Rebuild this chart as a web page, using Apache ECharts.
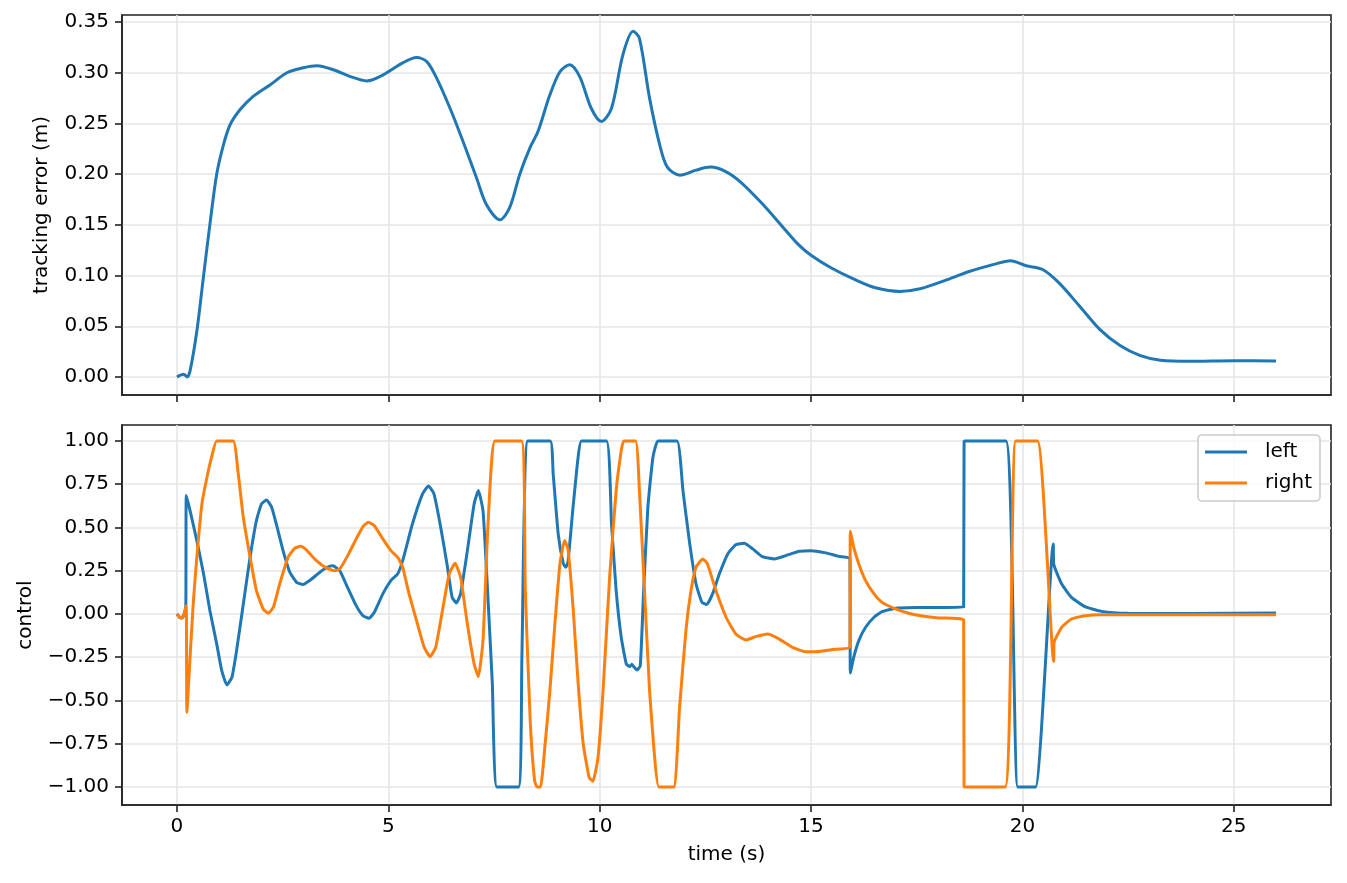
<!DOCTYPE html>
<html>
<head>
<meta charset="utf-8">
<script src="https://cdn.jsdelivr.net/npm/echarts@6/dist/echarts.min.js"></script>
<style>html,body{margin:0;padding:0;background:#fff}#c{width:1347px;height:883px}</style>
</head>
<body>
<div id="c"></div>
<script>
const xTicks = [0, 5, 10, 15, 20, 25];
const errTicks = [0, 0.05, 0.10, 0.15, 0.20, 0.25, 0.30, 0.35];
const ctrlTicks = [-1, -0.75, -0.5, -0.25, 0, 0.25, 0.5, 0.75, 1];

const errT = [0,0.16,0.24,0.31,0.47,0.63,0.79,0.94,1.10,1.26,1.50,1.81,2.20,2.60,2.99,3.31,3.70,4.09,4.49,4.88,5.35,5.67,5.91,6.14,6.46,6.77,7.09,7.32,7.64,7.87,8.11,8.35,8.54,8.82,9.06,9.29,9.53,9.80,10.04,10.28,10.55,10.79,10.94,11.18,11.42,11.6,11.9,12.28,12.62,12.96,13.34,13.82,14.31,14.69,15.0,15.46,16.04,16.52,17.1,17.58,18.16,18.74,19.32,19.72,20.09,20.48,20.86,21.35,21.83,22.31,22.79,23.27,23.95,25.0,26.0];
const errV = [0,0.0026,0,0.006,0.045,0.10,0.154,0.20,0.229,0.249,0.264,0.277,0.288,0.300,0.305,0.307,0.303,0.2965,0.292,0.298,0.31,0.315,0.311,0.295,0.265,0.232,0.196,0.170,0.155,0.167,0.20,0.226,0.242,0.278,0.301,0.308,0.296,0.265,0.252,0.265,0.318,0.341,0.334,0.275,0.229,0.207,0.199,0.204,0.207,0.203,0.192,0.172,0.149,0.131,0.120,0.108,0.096,0.088,0.0844,0.087,0.095,0.104,0.111,0.1147,0.1097,0.106,0.093,0.070,0.047,0.031,0.021,0.0164,0.0154,0.016,0.0158];

const leftT = [0,0.06,0.12,0.17,0.21,0.22,0.31,0.47,0.63,0.78,0.94,1.06,1.18,1.30,1.41,1.57,1.73,1.88,2.0,2.12,2.24,2.35,2.51,2.67,2.83,2.98,3.14,3.38,3.55,3.69,3.85,4.0,4.24,4.40,4.54,4.67,4.87,5.06,5.22,5.34,5.57,5.81,5.95,6.08,6.24,6.40,6.51,6.61,6.71,6.87,7.03,7.13,7.24,7.34,7.46,7.57,8.08,8.16,8.30,8.83,8.90,9.02,9.14,9.20,9.25,9.37,9.49,9.57,10.16,10.28,10.39,10.51,10.63,10.71,10.76,10.79,10.88,10.96,11.04,11.14,11.26,11.38,11.83,11.97,12.12,12.28,12.42,12.53,12.67,12.83,13.03,13.22,13.42,13.62,13.85,14.13,14.40,14.72,15.0,15.35,15.66,15.92,15.93,16.01,16.13,16.29,16.49,16.68,17.0,17.47,18.61,18.62,19.61,19.89,20.31,20.73,20.74,20.93,21.16,21.48,21.87,22.5,24,26.0];
const leftV = [0,-0.019,-0.023,0,0.048,0.684,0.597,0.424,0.231,0.019,-0.173,-0.328,-0.41,-0.366,-0.212,0.058,0.328,0.54,0.636,0.659,0.617,0.52,0.366,0.241,0.183,0.17,0.193,0.241,0.27,0.279,0.25,0.173,0.048,-0.01,-0.025,0.01,0.116,0.193,0.231,0.308,0.52,0.694,0.74,0.694,0.50,0.27,0.096,0.064,0.116,0.366,0.636,0.713,0.597,0.173,-0.40,-1.0,-1.0,-0.25,1.0,1.0,0.81,0.46,0.29,0.27,0.30,0.617,0.906,1.0,1.0,0.52,0.135,-0.135,-0.289,-0.304,-0.29,-0.30,-0.324,-0.30,0.135,0.617,0.906,1.0,1.0,0.713,0.424,0.173,0.067,0.054,0.116,0.231,0.347,0.40,0.408,0.376,0.331,0.318,0.337,0.362,0.366,0.353,0.333,0.32,-0.341,-0.25,-0.154,-0.077,-0.019,0.013,0.033,0.037,0.039,1.0,1.0,-1.0,-1.0,0.405,0.289,0.173,0.096,0.042,0.015,0.004,0.003,0.005];

const rightT = [0,0.06,0.12,0.17,0.22,0.235,0.31,0.39,0.47,0.59,0.71,0.82,0.94,1.33,1.45,1.57,1.73,1.88,2.04,2.16,2.28,2.43,2.63,2.79,2.93,3.06,3.30,3.53,3.73,3.85,4.04,4.24,4.40,4.53,4.67,4.87,5.06,5.22,5.34,5.49,5.69,5.85,5.99,6.12,6.28,6.44,6.58,6.71,6.87,7.03,7.13,7.24,7.34,7.44,7.52,8.15,8.24,8.36,8.46,8.52,8.60,8.71,8.82,8.94,9.06,9.17,9.25,9.37,9.49,9.61,9.75,9.84,9.96,10.08,10.24,10.39,10.51,10.57,10.85,10.94,11.06,11.18,11.30,11.40,11.75,11.89,12.04,12.16,12.28,12.44,12.55,12.75,12.99,13.22,13.46,13.69,13.97,14.25,14.56,14.87,15.11,15.50,15.92,15.93,16.01,16.13,16.29,16.49,16.68,17.0,17.31,17.63,18.02,18.61,18.62,19.59,19.84,20.36,20.74,20.75,20.93,21.16,21.48,21.87,26.0];
const rightV = [0,-0.019,-0.023,0,0.048,-0.568,-0.25,0.077,0.328,0.636,0.79,0.906,1.0,1.0,0.81,0.559,0.328,0.135,0.029,0.004,0.039,0.173,0.328,0.381,0.391,0.37,0.308,0.266,0.25,0.26,0.337,0.434,0.505,0.53,0.51,0.434,0.366,0.328,0.27,0.116,-0.058,-0.193,-0.247,-0.193,0.019,0.231,0.293,0.212,-0.058,-0.289,-0.362,-0.154,0.424,0.867,1.0,1.0,0.135,-0.636,-0.963,-1.0,-1.0,-0.75,-0.45,-0.058,0.289,0.424,0.376,0.039,-0.40,-0.75,-0.944,-0.967,-0.83,-0.443,0.231,0.713,0.944,1.0,1.0,0.713,0.135,-0.443,-0.83,-1.0,-1.0,-0.54,-0.096,0.135,0.27,0.318,0.289,0.135,-0.019,-0.116,-0.15,-0.131,-0.116,-0.145,-0.193,-0.218,-0.218,-0.206,-0.189,0.478,0.385,0.289,0.193,0.116,0.067,0.029,0.004,-0.012,-0.023,-0.033,-1.0,-1.0,1.0,1.0,-0.274,-0.164,-0.077,-0.029,-0.01,-0.004,-0.005];

const pairs = (t, v) => t.map((x, i) => [x, v[i]]);
const fmtMinus = (v, d) => { const s = Math.abs(v).toFixed(d); return v < 0 ? '\u2212' + s : s; };
const font = 'DejaVu Sans';
const fs = 20;
const gridColor = '#e6e6e6';

function xAxisCfg(gridIndex, showLabels) {
  return {
    type: 'value', gridIndex, min: -1.3, max: 27.3,
    axisLine: { show: true, onZero: false, lineStyle: { color: '#222', width: 1.6 } },
    axisTick: { show: true, length: 7, lineStyle: { color: '#222', width: 1.6 }, customValues: xTicks },
    axisLabel: { show: showLabels, customValues: xTicks, color: '#000', fontFamily: font, fontSize: fs, margin: 12, formatter: v => String(v) },
    splitLine: { show: true, lineStyle: { color: gridColor, width: 1.6 } },
    name: showLabels ? 'time (s)' : '', nameLocation: 'middle', nameGap: 40,
    nameTextStyle: { color: '#000', fontFamily: font, fontSize: fs }
  };
}
function yAxisCfg(gridIndex, min, max, ticks, name, gap) {
  return {
    type: 'value', gridIndex, min, max,
    axisLine: { show: true, onZero: false, lineStyle: { color: '#222', width: 1.6 } },
    axisTick: { show: true, length: 7, lineStyle: { color: '#222', width: 1.6 }, customValues: ticks },
    axisLabel: { customValues: ticks, color: '#000', fontFamily: font, fontSize: fs, margin: 13, formatter: v => fmtMinus(v, 2) },
    splitLine: { show: true, lineStyle: { color: gridColor, width: 1.6 } },
    name, nameLocation: 'middle', nameGap: gap,
    nameTextStyle: { color: '#000', fontFamily: font, fontSize: fs }
  };
}

const chart = echarts.init(document.getElementById('c'), null, { renderer: 'canvas' });
chart.setOption({
  animation: false,
  backgroundColor: '#fff',
  grid: [
    { left: 122, top: 15, width: 1209, height: 380, show: true, borderColor: '#222', borderWidth: 1.6, backgroundColor: 'transparent' },
    { left: 122, top: 425, width: 1209, height: 380, show: true, borderColor: '#222', borderWidth: 1.6, backgroundColor: 'transparent' }
  ],
  xAxis: [xAxisCfg(0, false), xAxisCfg(1, true)],
  yAxis: [
    yAxisCfg(0, -0.0178, 0.357, errTicks, 'tracking error (m)', 70),
    yAxisCfg(1, -1.104, 1.092, ctrlTicks, 'control', 86)
  ],
  legend: {
    data: ['left', 'right'],
    orient: 'vertical', left: 1198, top: 435,
    backgroundColor: 'rgba(255,255,255,0.8)',
    borderColor: '#cccccc', borderWidth: 1.6, borderRadius: 4,
    padding: [6, 8, 7, 7],
    itemWidth: 42, itemHeight: 3, itemGap: 9,
    icon: 'rect',
    textStyle: { color: '#000', fontFamily: font, fontSize: fs, lineHeight: 22, padding: [0, 0, 0, 13] }
  },
  series: [
    { name: 'error', type: 'line', xAxisIndex: 0, yAxisIndex: 0, data: pairs(errT, errV), showSymbol: false, smooth: 0.3, lineStyle: { color: '#1f77b4', width: 3 }, itemStyle: { color: '#1f77b4' } },
    { name: 'left', type: 'line', xAxisIndex: 1, yAxisIndex: 1, data: pairs(leftT, leftV), showSymbol: false, smooth: 0.15, lineStyle: { color: '#1f77b4', width: 3 }, itemStyle: { color: '#1f77b4' } },
    { name: 'right', type: 'line', xAxisIndex: 1, yAxisIndex: 1, data: pairs(rightT, rightV), showSymbol: false, smooth: 0.15, lineStyle: { color: '#ff7f0e', width: 3 }, itemStyle: { color: '#ff7f0e' } }
  ]
});
</script>
</body>
</html>
